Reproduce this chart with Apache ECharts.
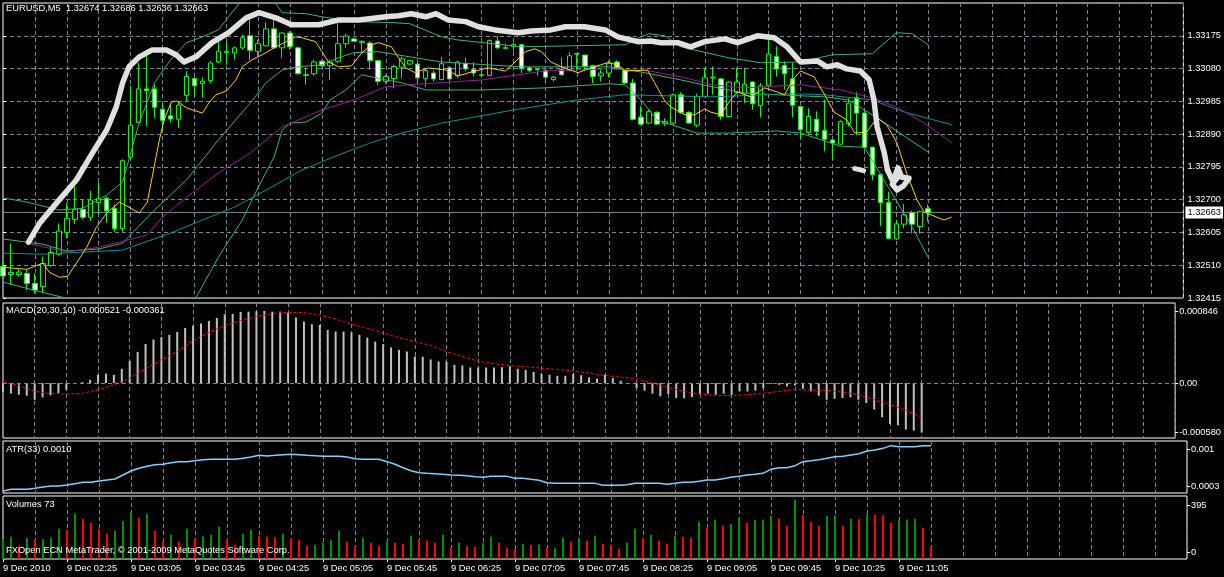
<!DOCTYPE html>
<html><head><meta charset="utf-8">
<script src="https://cdn.jsdelivr.net/npm/echarts@6/dist/echarts.min.js"></script>
<style>html,body{margin:0;padding:0;background:#000;}#c{width:1224px;height:577px;}</style>
</head><body><div id="c"></div>
<script>
// ---------- DATA ----------
const tickLabels = ['9 Dec 2010','9 Dec 02:25','9 Dec 03:05','9 Dec 03:45','9 Dec 04:25','9 Dec 05:05','9 Dec 05:45','9 Dec 06:25','9 Dec 07:05','9 Dec 07:45','9 Dec 08:25','9 Dec 09:05','9 Dec 09:45','9 Dec 10:25','9 Dec 11:05'];
const slotCount = 149; // visible bar slots incl. chart shift
const priceTicks = {min: 1.32415, max: 1.3327, interval: 0.00095};

const opens = [1.32506,1.32483,1.32483,1.32486,1.32457,1.32448,1.32509,1.32542,1.32605,1.32643,
1.32672,1.32649,1.32692,1.32704,1.32675,1.32616,1.32823,1.32924,1.33021,1.33021,
1.32962,1.32943,1.32933,1.33002,1.33051,1.33036,1.33045,1.33099,1.33127,1.33125,
1.33140,1.33175,1.33130,1.33146,1.33195,1.33140,1.33183,1.33140,1.33062,1.33065,
1.33101,1.33088,1.33101,1.33152,1.33166,1.33156,1.33154,1.33103,1.33043,1.33051,
1.33084,1.33093,1.33093,1.33051,1.33067,1.33048,1.33082,1.33059,1.33094,1.33077,
1.33062,1.33060,1.33160,1.33140,1.33143,1.33149,1.33082,1.33079,1.33075,1.33048,
1.33077,1.33077,1.33123,1.33119,1.33088,1.33059,1.33067,1.33099,1.33075,1.33038,
1.32939,1.32922,1.32953,1.32920,1.32922,1.33004,1.32953,1.32916,1.32999,1.33053,
1.33050,1.32941,1.33011,1.33007,1.33041,1.32973,1.33030,1.33115,1.33089,1.33050,
1.32970,1.32895,1.32933,1.32901,1.32873,1.32861,1.32920,1.32996,1.32951,1.32852,
1.32772,1.32692,1.32586,1.32629,1.32662,1.32622,1.32674];
const highs = [1.32520,1.32573,1.32498,1.32496,1.32486,1.32535,1.32564,1.32631,1.32690,1.32740,
1.32699,1.32726,1.32750,1.32709,1.32685,1.32817,1.33030,1.33096,1.33120,1.33033,
1.32980,1.32980,1.32985,1.33072,1.33055,1.33055,1.33101,1.33159,1.33159,1.33144,
1.33178,1.33222,1.33164,1.33214,1.33222,1.33185,1.33188,1.33144,1.33082,1.33106,
1.33106,1.33106,1.33212,1.33181,1.33169,1.33162,1.33159,1.33106,1.33062,1.33091,
1.33115,1.33106,1.33101,1.33082,1.33075,1.33114,1.33086,1.33103,1.33111,1.33098,
1.33077,1.33164,1.33174,1.33152,1.33156,1.33152,1.33086,1.33082,1.33079,1.33059,
1.33111,1.33127,1.33123,1.33120,1.33091,1.33077,1.33103,1.33104,1.33077,1.33050,
1.32972,1.32961,1.32956,1.32936,1.33007,1.33011,1.32956,1.33007,1.33082,1.33086,
1.33053,1.33043,1.33082,1.33082,1.33043,1.33038,1.33164,1.33144,1.33101,1.33096,
1.32972,1.32965,1.32956,1.32990,1.32875,1.32930,1.32994,1.33011,1.32956,1.32854,
1.32777,1.32723,1.32641,1.32688,1.32668,1.32668,1.32686];
const lows = [1.32472,1.32452,1.32477,1.32438,1.32430,1.32430,1.32506,1.32539,1.32588,1.32630,
1.32643,1.32639,1.32660,1.32633,1.32607,1.32607,1.32815,1.32922,1.32912,1.32936,
1.32901,1.32924,1.32907,1.32985,1.32999,1.32996,1.33038,1.33096,1.33091,1.33106,
1.33135,1.33104,1.33115,1.33144,1.33137,1.33111,1.33135,1.33062,1.33033,1.33059,
1.33086,1.33048,1.33096,1.33140,1.33159,1.33125,1.33077,1.33033,1.33036,1.33023,
1.33053,1.33091,1.33038,1.33028,1.33043,1.33046,1.33048,1.33053,1.33072,1.33057,
1.33053,1.33059,1.33137,1.33137,1.33130,1.33067,1.33069,1.33059,1.33040,1.33043,
1.33059,1.33072,1.33072,1.33077,1.33038,1.33043,1.33054,1.33077,1.33036,1.32930,
1.32917,1.32920,1.32917,1.32914,1.32920,1.32949,1.32920,1.32910,1.32997,1.33004,
1.32932,1.32939,1.33007,1.32980,1.32961,1.32939,1.33026,1.33057,1.33019,1.32939,
1.32878,1.32891,1.32883,1.32840,1.32815,1.32858,1.32912,1.32888,1.32846,1.32757,
1.32624,1.32585,1.32583,1.32617,1.32602,1.32602,1.32636];
const closes = [1.32479,1.32489,1.32490,1.32457,1.32438,1.32515,1.32547,1.32609,1.32646,1.32672,
1.32649,1.32699,1.32704,1.32668,1.32616,1.32813,1.32916,1.33021,1.33016,1.32968,
1.32930,1.32934,1.32974,1.33057,1.33030,1.33043,1.33096,1.33130,1.33130,1.33140,
1.33169,1.33133,1.33152,1.33195,1.33140,1.33183,1.33143,1.33065,1.33060,1.33099,
1.33088,1.33098,1.33152,1.33174,1.33159,1.33159,1.33103,1.33043,1.33057,1.33086,
1.33108,1.33103,1.33053,1.33074,1.33050,1.33094,1.33050,1.33099,1.33079,1.33067,
1.33060,1.33161,1.33140,1.33139,1.33150,1.33080,1.33075,1.33077,1.33055,1.33055,
1.33062,1.33117,1.33122,1.33086,1.33057,1.33067,1.33096,1.33082,1.33038,1.32933,
1.32919,1.32955,1.32919,1.32926,1.33004,1.32953,1.32922,1.32999,1.33053,1.33055,
1.32941,1.33041,1.33041,1.33035,1.32978,1.33030,1.33122,1.33079,1.33065,1.32974,
1.32903,1.32941,1.32898,1.32875,1.32864,1.32927,1.32980,1.32951,1.32852,1.32772,
1.32692,1.32588,1.32630,1.32656,1.32629,1.32665,1.32663];

// indicator lines: [bar position, price]
const bbUpper = [[0,1.32705],[3,1.32693],[7,1.32670],[10,1.32675],[13,1.32713],[15,1.32751],[17,1.32917],[19,1.33039],[21,1.33105],[23,1.33155],[25,1.33172],[27,1.33192],[30,1.33280],[32,1.33300],[34,1.33275],[35,1.33242],[38,1.33239],[40,1.33230],[44,1.33216],[49,1.33213],[51,1.33210],[55,1.33172],[57,1.33163],[65,1.33143],[78,1.33149],[80,1.33172],[81,1.33181],[83,1.33175],[85,1.33143],[91,1.33111],[95,1.33097],[100,1.33099],[104,1.33120],[109,1.33123],[112,1.33184],[114,1.33181],[116,1.33149]];
const bbMiddle = [[0,1.32586],[5,1.32571],[8,1.32551],[12,1.32557],[15,1.32574],[19,1.32670],[23,1.32757],[27,1.32873],[31,1.32980],[33,1.33039],[35,1.33076],[37,1.33085],[40,1.33091],[42,1.33111],[44,1.33126],[47,1.33129],[55,1.33099],[65,1.33085],[76,1.33085],[80,1.33070],[85,1.33047],[89,1.33027],[93,1.33009],[97,1.33004],[103,1.32998],[106,1.32989],[110,1.32931],[116,1.32838]];
const bbLower = [[0,1.32461],[4,1.32437],[8,1.32414],[12,1.32392],[16,1.32380],[20,1.32385],[24,1.32408],[27,1.32533],[30,1.32641],[32,1.32736],[34,1.32824],[35,1.32902],[36,1.32922],[38,1.32925],[40,1.32951],[41,1.32989],[43,1.33018],[45,1.33062],[48,1.33047],[50,1.33039],[53,1.33018],[60,1.33018],[68,1.33024],[76,1.33036],[78,1.33033],[80,1.32989],[82,1.32931],[87,1.32893],[91,1.32893],[97,1.32899],[100,1.32893],[105,1.32855],[108,1.32852],[111,1.32736],[114,1.32620],[116,1.32533]];
const maYellow = [[0,1.32504],[3,1.32498],[5,1.32516],[5.8,1.32490],[7.1,1.32475],[8.1,1.32478],[9.2,1.32516],[10.5,1.32562],[11.7,1.32620],[13,1.32661],[14.6,1.32693],[15.8,1.32678],[17.1,1.32661],[18.1,1.32693],[18.7,1.32765],[19.6,1.32873],[20.2,1.32931],[21.1,1.32983],[21.8,1.32986],[23,1.32966],[25,1.32951],[25.8,1.32980],[26.7,1.33004],[28,1.33015],[29.2,1.33047],[30,1.33085],[31.2,1.33105],[32.5,1.33120],[34.2,1.33143],[35.5,1.33158],[36.7,1.33172],[37.5,1.33169],[39.2,1.33158],[40.8,1.33099],[42.1,1.33085],[43.7,1.33088],[45,1.33126],[46.2,1.33149],[47.1,1.33155],[48.7,1.33143],[49.6,1.33111],[50.5,1.33082],[51.7,1.33068],[53.3,1.33082],[55.5,1.33076],[57.1,1.33059],[58.7,1.33070],[60.8,1.33082],[63,1.33073],[64.2,1.33099],[65.5,1.33129],[66.7,1.33137],[67.5,1.33129],[68.7,1.33099],[70,1.33085],[72.1,1.33068],[73.7,1.33082],[75.8,1.33097],[77.1,1.33091],[78,1.33073],[80.8,1.33076],[81.7,1.33039],[82.9,1.32989],[83.7,1.32969],[85.5,1.32946],[86.7,1.32946],[88,1.32963],[88.7,1.32954],[90,1.32946],[91.2,1.32989],[92.1,1.33012],[93.7,1.32998],[95.5,1.33024],[97.1,1.33012],[98,1.33004],[99,1.33047],[100,1.33073],[101.7,1.33056],[102.9,1.33009],[104.2,1.32954],[105.8,1.32931],[106.8,1.32893],[108.3,1.32896],[109.6,1.32937],[110.8,1.32917],[112.1,1.32864],[113.3,1.32777],[114.6,1.32699],[115.5,1.32664],[117.1,1.32649],[118,1.32641],[118.9,1.32649]];
const maMagenta = [[3,1.32574],[8,1.32548],[12,1.32562],[18,1.32597],[20,1.32649],[23,1.32707],[27,1.32777],[31,1.32835],[35,1.32911],[40,1.32960],[44,1.32989],[48,1.33027],[51,1.33033],[60,1.33047],[68,1.33073],[76,1.33079],[81,1.33073],[85,1.33056],[89,1.33033],[93,1.33024],[100,1.33033],[105,1.33018],[109,1.32995],[112,1.32969],[115.5,1.32922],[119,1.32864]];
const maTeal = [[0,1.32545],[5,1.32542],[10,1.32548],[15,1.32554],[21,1.32603],[25,1.32641],[29,1.32678],[33,1.32728],[37.5,1.32786],[42,1.32829],[46,1.32864],[50,1.32893],[55,1.32922],[64,1.32960],[72,1.32989],[78,1.33004],[89,1.32998],[99,1.33007],[103,1.33004],[109,1.32989],[113,1.32954],[119,1.32917]];
const thickLine = [[3.2,1.32577],[4.6,1.32632],[6.7,1.32690],[9.2,1.32757],[11.2,1.32835],[13,1.32902],[14.2,1.32969],[15,1.33039],[15.8,1.33085],[17.1,1.33114],[18.7,1.33134],[20.5,1.33134],[21.7,1.33120],[22.7,1.33099],[24.2,1.33114],[26.2,1.33155],[28.3,1.33184],[30.5,1.33227],[32.1,1.33242],[34.2,1.33227],[36.2,1.33207],[38,1.33207],[39.6,1.33207],[42.1,1.33221],[44.6,1.33221],[48,1.33230],[49.6,1.33233],[51.2,1.33239],[53,1.33230],[54.3,1.33239],[55.8,1.33221],[58,1.33216],[59.6,1.33201],[61.7,1.33192],[64.6,1.33184],[66.2,1.33189],[68.7,1.33192],[70.5,1.33201],[72.9,1.33201],[75.5,1.33192],[77.1,1.33172],[79.6,1.33158],[81.2,1.33160],[82.5,1.33155],[84.6,1.33155],[86.2,1.33143],[88,1.33158],[90.5,1.33166],[92.1,1.33155],[94.6,1.33175],[96.7,1.33169],[98.3,1.33143],[100,1.33099],[102.1,1.33102],[103.3,1.33085],[104.6,1.33091],[105.8,1.33079],[107.5,1.33073],[108.6,1.33047],[109.2,1.32989],[109.6,1.32911],[110.5,1.32835],[110.9,1.32786]];
const thickBlob = [[110.9,1.32786],[111.6,1.32752],[112.2,1.32792],[112.7,1.32765],[113.6,1.32762],[112.9,1.32740],[112.1,1.32728],[111.5,1.32745],[112.3,1.32768]];
const thickFragment = [[106.8,1.32790],[107.9,1.32784]];

const macdHist = [-0.000088,-0.000112,-0.000123,-0.000133,-0.000176,-0.000151,-0.000130,-0.000105,-0.000070,-0.000010,
0.000010,0.000035,0.000088,0.000100,0.000088,0.000151,0.000235,0.000330,0.000414,0.000460,
0.000485,0.000510,0.000540,0.000583,0.000607,0.000629,0.000657,0.000688,0.000727,0.000730,
0.000752,0.000755,0.000758,0.000762,0.000755,0.000755,0.000744,0.000692,0.000650,0.000622,
0.000615,0.000562,0.000544,0.000544,0.000534,0.000510,0.000481,0.000439,0.000411,0.000376,
0.000351,0.000334,0.000281,0.000278,0.000250,0.000228,0.000228,0.000193,0.000186,0.000165,
0.000165,0.000165,0.000165,0.000168,0.000175,0.000151,0.000140,0.000119,0.000098,0.000088,
0.000077,0.000077,0.000098,0.000084,0.000060,0.000046,0.000088,0.000053,0.000025,-0.000010,
-0.000053,-0.000080,-0.000112,-0.000140,-0.000116,-0.000158,-0.000161,-0.000147,-0.000123,-0.000112,
-0.000123,-0.000112,-0.000123,-0.000088,-0.000088,-0.000080,-0.000053,-0.000010,-0.000018,-0.000035,
-0.000025,-0.000060,-0.000088,-0.000133,-0.000176,-0.000165,-0.000158,-0.000151,-0.000176,-0.000210,
-0.000280,-0.000361,-0.000432,-0.000446,-0.000491,-0.000502,-0.000521];
const macdSignal = [[0,0.00001],[2,-0.000025],[4,-0.000088],[6,-0.000109],[8,-0.000116],[10,-0.000109],[12,-0.00007],[14,-0.000018],[15,0.00001],[16,0.000053],[18,0.000151],[20,0.000246],[22,0.000333],[24,0.000446],[26,0.000537],[28,0.000607],[30,0.00066],[32,0.000702],[34,0.000734],[36,0.000748],[38,0.000744],[40,0.00072],[42,0.000677],[44,0.000621],[46,0.000579],[48,0.000527],[50,0.000481],[52,0.000439],[54,0.000397],[56,0.000333],[58,0.000281],[60,0.000232],[62,0.000204],[64,0.000186],[68,0.000158],[72,0.00013],[76,0.000081],[80,0.000046],[82,0.0],[84,-0.000046],[86,-0.000088],[88,-0.000116],[90,-0.00013],[92,-0.000133],[94,-0.000123],[96,-0.000105],[98,-0.000088],[100,-0.000067],[102,-0.000074],[104,-0.000077],[106,-0.000095],[108,-0.000123],[110,-0.000176],[112,-0.000228],[114,-0.000288],[116,-0.000361]];
const macdRange = {min: -0.00058, max: 0.000846};
const macdLabels = ['0.000846','0.00','-0.000580'];

const atr = [0.000329,0.000353,0.000353,0.000353,0.000367,0.000387,0.000401,0.000401,0.000415,0.000435,
0.000454,0.000454,0.000473,0.000488,0.000502,0.000560,0.000617,0.000656,0.000685,0.000709,
0.000714,0.000737,0.000752,0.000752,0.000766,0.000781,0.000786,0.000786,0.000786,0.000786,
0.000800,0.000819,0.000843,0.000834,0.000843,0.000853,0.000858,0.000853,0.000843,0.000838,
0.000829,0.000829,0.000829,0.000819,0.000795,0.000786,0.000786,0.000786,0.000752,0.000714,
0.000665,0.000622,0.000593,0.000584,0.000579,0.000569,0.000560,0.000555,0.000550,0.000536,
0.000526,0.000540,0.000540,0.000540,0.000512,0.000512,0.000497,0.000483,0.000449,0.000439,
0.000439,0.000439,0.000439,0.000439,0.000439,0.000411,0.000411,0.000411,0.000420,0.000439,
0.000439,0.000439,0.000439,0.000425,0.000439,0.000454,0.000454,0.000468,0.000488,0.000488,
0.000507,0.000526,0.000540,0.000560,0.000569,0.000584,0.000641,0.000665,0.000665,0.000694,
0.000752,0.000766,0.000781,0.000800,0.000824,0.000829,0.000848,0.000867,0.000906,0.000920,
0.000944,0.000983,0.000968,0.000968,0.000968,0.000983,0.000983];
const atrRange = {min: 0.0003, max: 0.00105};
const atrLabels = ['0.001','0.0003'];

const volumes = [125,139,83,131,121,124,133,189,183,283,252,227,189,160,177,239,295,258,283,177,
108,152,108,189,127,141,152,202,123,89,158,183,146,139,137,158,127,121,83,89,
102,121,177,108,77,133,102,83,108,102,96,146,121,114,102,152,69,102,83,77,
100,139,102,71,64,96,87,91,69,71,133,108,133,114,146,96,89,64,102,189,
133,152,114,96,146,139,133,233,196,245,208,220,258,227,245,248,270,252,208,370,
277,233,208,270,272,208,252,250,283,277,275,227,245,248,252,196,73];
const volRange = {min: 0, max: 395};
const volLabels = ['395','0'];

// ---------- CHART ----------
const FONT = 'Liberation Sans, Arial, sans-serif';
const FS = 9.3;
const GRIDC = '#778899';
const DASH = [4, 3];
const categories = Array.from({length: slotCount}, (_, i) => i);
const candleData = opens.map((o, i) => [o, closes[i], lows[i], highs[i]]);
const volData = volumes.map((v, i) => ({value: v, itemStyle: {color: (i > 0 && v <= volumes[i - 1]) ? '#FF0000' : '#009000'}}));
const last = opens.length - 1;
const lastPrice = closes[last];

const grids = [
  {left: 3, right: 37, top: 3, height: 295},
  {left: 3, right: 37, top: 303, height: 135},
  {left: 3, right: 37, top: 441, height: 52},
  {left: 3, right: 37, top: 496, height: 63}
].map(g => Object.assign(g, {show: true, borderColor: '#ffffff', borderWidth: 1, backgroundColor: '#000'}));

function catAxis(gi, withLabels) {
  return {
    type: 'category', gridIndex: gi, data: categories, boundaryGap: false,
    axisLine: {show: false},
    axisTick: withLabels ? {show: true, length: 3, lineStyle: {color: '#fff'}, interval: (i) => i % 8 === 0 && i / 8 < tickLabels.length} : {show: false},
    axisLabel: withLabels ? {
      show: true, color: '#fff', fontSize: FS, fontFamily: FONT, align: 'left', margin: 5,
      interval: (i) => i % 8 === 0 && i / 8 < tickLabels.length,
      formatter: (v, i) => tickLabels[i / 8] || ''
    } : {show: false},
    splitLine: {show: true, interval: (i) => i % 4 === 0 && i > 0, lineStyle: {color: GRIDC, type: DASH, width: 1}}
  };
}
function subAxis(gi, range, positions, labels) {
  return {
    type: 'value', gridIndex: gi, position: 'right', min: range.min, max: range.max,
    splitLine: {show: false}, axisLine: {show: false},
    axisTick: {show: true, length: 3, lineStyle: {color: '#fff'}, customValues: positions},
    axisLabel: {show: true, color: '#fff', fontSize: FS, fontFamily: FONT, margin: 4, customValues: positions,
      formatter: (v) => labels[positions.indexOf(v)] || ''}
  };
}
const mainLine = (name, data, color, width) => ({type: 'line', name, xAxisIndex: 4, yAxisIndex: 0, data, symbol: 'none',
  lineStyle: {color, width, join: 'round', cap: 'round'}});

const option = {
  backgroundColor: '#000',
  animation: false,
  textStyle: {fontFamily: FONT},
  title: [
    {text: `EURUSD,M5  ${opens[last].toFixed(5)} ${highs[last].toFixed(5)} ${lows[last].toFixed(5)} ${closes[last].toFixed(5)}`, left: 6, top: 4},
    {text: `MACD(20,30,10) ${macdHist[last].toFixed(6)} ${macdSignal[macdSignal.length - 1][1].toFixed(6)}`, left: 6, top: 306},
    {text: `ATR(33) ${atr[last].toFixed(4)}`, left: 6, top: 445},
    {text: `Volumes ${volumes[last]}`, left: 6, top: 500},
    {text: 'FXOpen ECN MetaTrader, © 2001-2009 MetaQuotes Software Corp.', left: 6, top: 546}
  ].map(t => Object.assign(t, {padding: 0, textStyle: {color: '#fff', fontSize: FS, fontWeight: 'normal', fontFamily: FONT}})),
  grid: grids,
  xAxis: [
    catAxis(0, false), catAxis(1, false), catAxis(2, false), catAxis(3, true),
    {type: 'value', gridIndex: 0, min: 0, max: slotCount - 1, show: false}
  ],
  yAxis: [
    {type: 'value', gridIndex: 0, position: 'right', min: priceTicks.min, max: priceTicks.max, interval: priceTicks.interval,
      axisLine: {show: false},
      axisTick: {show: true, length: 3, lineStyle: {color: '#fff'}},
      axisLabel: {color: '#fff', fontSize: FS, fontFamily: FONT, margin: 4, showMaxLabel: false, formatter: (v) => v.toFixed(5)},
      splitLine: {show: true, lineStyle: {color: GRIDC, type: DASH, width: 1}}},
    subAxis(1, macdRange, [0.00076, 0, -0.00052], macdLabels),
    subAxis(2, atrRange, [0.000935, 0.000401], atrLabels),
    subAxis(3, volRange, [338, 44], volLabels)
  ],
  series: [
    {type: 'line', name: 'lastPrice', xAxisIndex: 4, yAxisIndex: 0, data: [[0, lastPrice], [slotCount - 1, lastPrice]], symbol: 'none',
      lineStyle: {color: GRIDC, width: 1}, z: 1,
      endLabel: {show: true, formatter: () => lastPrice.toFixed(5), color: '#000', backgroundColor: '#fff', padding: [2, 2, 1, 2], distance: 2, fontSize: FS, fontFamily: FONT}},
    mainLine('bbUpper', bbUpper, '#3CB371', 1),
    mainLine('bbMiddle', bbMiddle, '#3CB371', 1),
    mainLine('bbLower', bbLower, '#3CB371', 1),
    mainLine('maTeal', maTeal, '#0E9090', 1),
    mainLine('maMagenta', maMagenta, '#961E96', 1),
    mainLine('maYellow', maYellow, '#FFD200', 1),
    mainLine('thick', thickLine, '#E0E0E0', 5.5),
    mainLine('thickBlob', thickBlob, '#E0E0E0', 5.5),
    mainLine('thickFrag', thickFragment, '#E0E0E0', 5),
    {type: 'candlestick', name: 'EURUSD', xAxisIndex: 0, yAxisIndex: 0, data: candleData, barWidth: 5,
      itemStyle: {color: '#000000', color0: '#FFFFFF', borderColor: '#00FF00', borderColor0: '#00FF00', borderWidth: 1}},
    {type: 'bar', name: 'MACD', xAxisIndex: 1, yAxisIndex: 1, data: macdHist, barWidth: 2, itemStyle: {color: '#C0C0C0'},
      markLine: {silent: true, symbol: ['none', 'none'], animation: false, data: [{yAxis: 0}], label: {show: false},
        lineStyle: {color: GRIDC, type: DASH, width: 1}}},
    {type: 'line', name: 'Signal', xAxisIndex: 1, yAxisIndex: 1, data: macdSignal, symbol: 'none', lineStyle: {color: '#FF0000', width: 1, type: [3, 2]}},
    {type: 'line', name: 'ATR', xAxisIndex: 2, yAxisIndex: 2, data: atr, symbol: 'none', lineStyle: {color: '#87CEFA', width: 1.5}},
    {type: 'bar', name: 'Volumes', xAxisIndex: 3, yAxisIndex: 3, data: volData, barWidth: 2}
  ]
};
const chart = echarts.init(document.getElementById('c'), null, {renderer: 'canvas'});
chart.setOption(option);
</script></body></html>
